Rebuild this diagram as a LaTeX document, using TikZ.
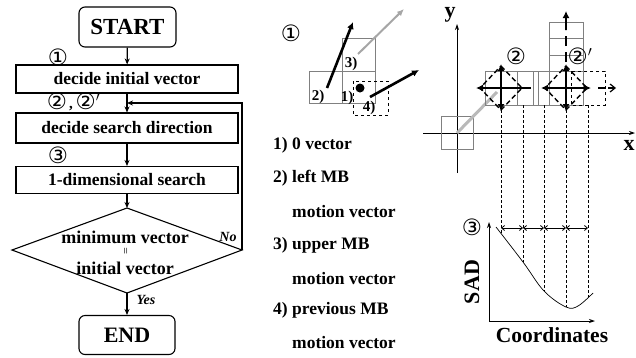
\documentclass[tikz,border=0pt]{standalone}
\usepackage{fontspec}
\setmainfont{Liberation Serif}
\newfontfamily\circfont{DejaVu Sans}
\usetikzlibrary{arrows.meta}
\begin{document}
\begin{tikzpicture}[x=1pt,y=-1pt,
  every node/.style={inner sep=0pt},
  fbox/.style={draw,line width=1.1pt,minimum width=222pt,font=\fontsize{17.5}{20}\selectfont\bfseries},
  term/.style={draw,line width=1.1pt,rounded corners=6pt},
  arr/.style={line width=1.2pt,-{Stealth[length=6pt,width=5pt]}},
  circ/.style={font=\circfont\fontsize{22.5}{23}\selectfont},
  lst/.style={anchor=west,font=\fontsize{17.5}{20}\selectfont\bfseries},
  sm/.style={font=\fontsize{15}{17}\selectfont\bfseries},
  thk/.style={line width=2.6pt},
  tipL/.style={-{Latex[length=7pt,width=7pt]}},
  cell/.style={draw=gray,line width=0.8pt},
  dsh/.style={dashed,dash pattern=on 3pt off 2pt,line width=0.8pt},
  ddia/.style={dash pattern=on 5pt off 3pt,line width=1.4pt}
]
\useasboundingbox (0,0) rectangle (636,357);
% ---------------- flowchart ----------------
\node[term,minimum width=97pt,minimum height=40pt,font=\fontsize{23}{25}\selectfont\bfseries] (start) at (127.5,27) {START};
\node[fbox,minimum height=28pt] (b1) at (127,79) {decide initial vector};
\node[fbox,minimum height=30pt] (b2) at (127,128) {decide search direction};
\node[fbox,minimum height=27pt] (b3) at (127,180) {1-dimensional search};
\coordinate (dt) at (127,208);
\coordinate (dr) at (242,250);
\coordinate (db) at (127,293);
\coordinate (dl) at (12,250);
\draw[line width=1.1pt] (dt) -- (dr) -- (db) -- (dl) -- cycle;
\node[font=\fontsize{18}{20}\selectfont\bfseries] (d1) at (125,237) {minimum vector};
\node[font=\fontsize{12}{13}\selectfont,rotate=90] (deq) at (127,251) {=};
\node[font=\fontsize{18}{20}\selectfont\bfseries] (d2) at (125,268) {initial vector};
\node[term,minimum width=96pt,minimum height=39pt,font=\fontsize{22}{24}\selectfont\bfseries] (end) at (127,335) {END};
\coordinate (lp) at (127,103);
\draw[arr] (start) -- (b1);
\draw[arr] (b1) -- (b2);
\draw[arr] (b2) -- (b3);
\draw[arr] (b3) -- (dt);
\draw[arr] (db) -- (end);
\draw[arr] (dr) |- (lp);
\node[font=\fontsize{14}{16}\selectfont\bfseries\itshape] (yes) at (146,300) {Yes};
\node[font=\fontsize{14}{16}\selectfont\bfseries\itshape] (no) at (228,237) {No};
\node[circ] (c1) at (58,57) {①};
\node[circ] (c2) at (57,101) {②};
\node[font=\fontsize{15}{16}\selectfont\bfseries] (cm) at (71,109) {,};
\node[circ] (c2p) at (88,101) {②$'$};
\node[circ] (c3) at (58,155) {③};
% ---------------- candidate vectors ----------------
\node[circ] (m1) at (291,33) {①};
\draw[cell] (309,71) rectangle (342,103);
\draw[cell] (342,71) rectangle (375,103);
\draw[cell] (342,38) rectangle (375,71);
\draw[dashed,line width=1pt] (353,81) rectangle (388,115);
\node[sm] (l2) at (318,97) {2)};
\node[sm] (l3) at (351,64) {3)};
\node[sm] (l1) at (347,98) {1)};
\node[sm] (l4) at (369,108) {4)};
\fill (360,88) circle (4.5);
\draw[thk,tipL] (327,88) -- (353,22);
\draw[line width=2pt,gray!70,-{Latex[length=7pt,width=6pt]}] (358,54) -- (404,9);
\draw[thk,tipL] (370,97) -- (419,70);
\node[lst] (t1) at (273,145) {1) 0 vector};
\node[lst] (t2) at (273,178) {2) left MB};
\node[lst] (t3) at (292,212) {motion vector};
\node[lst] (t4) at (273,245) {3) upper MB};
\node[lst] (t5) at (292,279) {motion vector};
\node[lst] (t6) at (273,310) {4) previous MB};
\node[lst] (t7) at (292,343) {motion vector};
% ---------------- xy search ----------------
\draw[line width=0.8pt,-{Stealth[length=6pt,width=4pt]}] (457,173) -- (457,24);
\draw[line width=0.8pt,-{Stealth[length=6pt,width=4pt]}] (423,133) -- (635,133);
\node[font=\fontsize{22}{24}\selectfont\bfseries] (ly) at (450,15) {y};
\node[font=\fontsize{22}{24}\selectfont\bfseries] (lx) at (629,145) {x};
\draw[cell] (441,116) rectangle (473,149);
\draw[line width=3pt,gray!55] (457,133) -- (497,92);
% row cells
\draw[cell] (485,71) rectangle (583,105);
\foreach \xx in {501,517,533,538,549,566} \draw[cell] (\xx,71) -- (\xx,105);
% tower
\draw[cell] (549,22) rectangle (583,71);
\draw[cell] (549,38.5) -- (583,38.5);
\draw[cell] (549,55) -- (583,55);
\draw[dashed,line width=1pt] (571,71) rectangle (605,105);
% vertical dashed guides
\draw[dsh] (501,105) -- (501,234);
\draw[dsh] (523,105) -- (523,262);
\draw[dsh] (544,105) -- (544,291);
\draw[dsh] (566,105) -- (566,307);
\draw[dsh] (588,105) -- (588,297);
% cross 2
\draw[ddia] (501,66) -- (522,88) -- (501,110) -- (480,88) -- cycle;
\draw[thk,{Latex[length=7pt,width=7pt]}-{Latex[length=7pt,width=7pt]}] (501,64) -- (501,111);
\draw[thk,{Latex[length=7pt,width=7pt]}-] (476,88) -- (531,88);
% cross 2'
\draw[ddia] (566,66) -- (587,88) -- (566,110) -- (545,88) -- cycle;
\draw[thk,{Latex[length=7pt,width=7pt]}-{Latex[length=7pt,width=7pt]}] (566,64) -- (566,111);
\draw[thk,{Latex[length=7pt,width=7pt]}-{Latex[length=7pt,width=7pt]}] (541,88) -- (591,88);
\draw[thk,dash pattern=on 7pt off 4pt] (598,88) -- (612,88);
\draw[line width=1.2pt,-{Straight Barb[length=5pt,width=8pt]}] (608,88) -- (616,88);
\draw[thk,dash pattern=on 10pt off 6pt] (566,62) -- (566,30);
\draw[thk,tipL] (566,30) -- (566,11);
\node[circ] (x2) at (516,56) {②};
\node[circ] (x2p) at (580,56) {②$'$};
% ---------------- SAD plot ----------------
\draw[line width=0.8pt,-{Stealth[length=6pt,width=4pt]}] (489,321) -- (489,222);
\draw[line width=0.8pt,-{Stealth[length=6pt,width=4pt]}] (489,321) -- (595,321);
\draw[line width=0.7pt] plot[smooth,tension=0.6] coordinates {(496,227) (523,262) (544,291) (566,307) (578,306) (593,293)};
\foreach \a/\b in {501/523,523/544,544/566,566/588}
  \draw[line width=0.8pt,{Straight Barb[length=3pt,width=5pt]}-{Straight Barb[length=3pt,width=5pt]}] (\a,228) -- (\b,228);
\node[circ] (s3) at (472,227) {③};
\node[font=\fontsize{22}{24}\selectfont\bfseries,rotate=90] (sad) at (472,282) {SAD};
\node[font=\fontsize{21.5}{24}\selectfont\bfseries] (coo) at (552,335) {Coordinates};
\end{tikzpicture}
\end{document}
